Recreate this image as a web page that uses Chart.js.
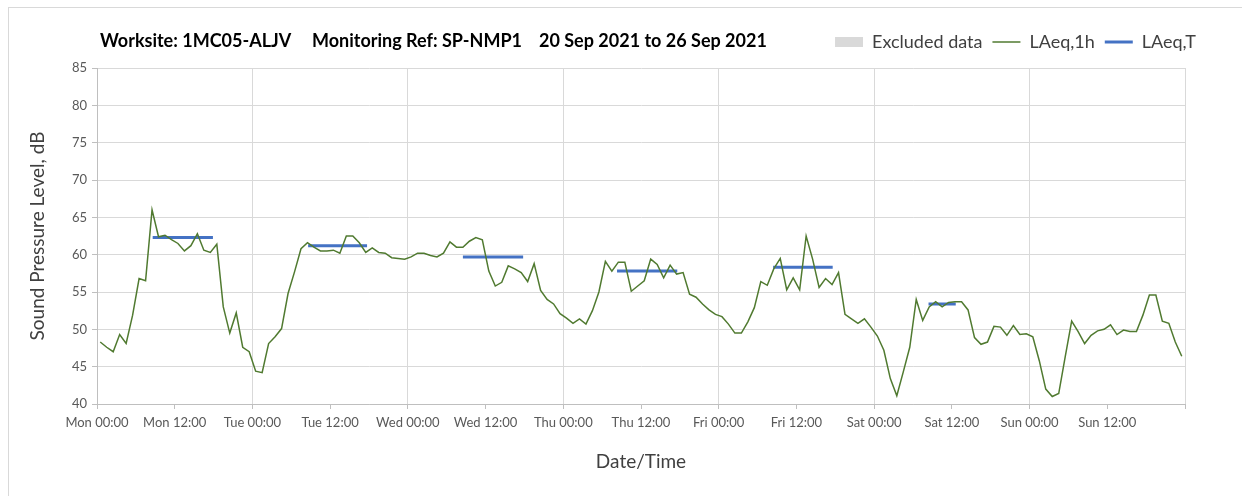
<!DOCTYPE html>
<html>
<head>
<meta charset="utf-8">
<title>SP-NMP1 noise monitoring</title>
<script src="https://cdn.jsdelivr.net/npm/chart.js@4.4.1/dist/chart.umd.min.js"></script>
<style>
  html, body { margin: 0; padding: 0; background: #fff; }
  #wrap { position: relative; width: 1242px; height: 496px; overflow: hidden; }
  #frame { position: absolute; left: 8px; top: 7px; width: 1300px; height: 600px; border: 1px solid #d9d9d9; }
  #chart { position: absolute; left: 0; top: 0; }
</style>
</head>
<body>
<div id="wrap">
  <div id="frame"></div>
  <canvas id="chart" width="1242" height="496"></canvas>
</div>
<script>
// Hourly LAeq,1h (dB) from Mon 00:00 to Sun 23:00, one value per hour
const laeq1h = [
  // Mon
  48.3, 47.6, 47.0, 49.3, 48.1, 51.9, 56.8, 56.5, 66.0, 62.4, 62.6, 62.0,
  61.5, 60.5, 61.2, 62.8, 60.6, 60.3, 61.4, 53.0, 49.5, 52.2, 47.6, 47.0,
  // Tue
  44.4, 44.2, 48.1, 49.0, 50.1, 54.8, 57.7, 60.8, 61.6, 61.0, 60.5, 60.5,
  60.6, 60.2, 62.5, 62.5, 61.6, 60.3, 60.9, 60.3, 60.2, 59.6, 59.5, 59.4,
  // Wed
  59.7, 60.2, 60.2, 59.9, 59.7, 60.2, 61.7, 61.0, 61.0, 61.8, 62.3, 62.0,
  57.8, 55.8, 56.3, 58.5, 58.1, 57.6, 56.4, 58.8, 55.2, 54.0, 53.4, 52.1,
  // Thu
  51.5, 50.8, 51.4, 50.7, 52.5, 55.0, 59.1, 57.8, 59.0, 59.0, 55.1, 55.8,
  56.5, 59.4, 58.7, 56.9, 58.6, 57.4, 57.6, 54.7, 54.3, 53.4, 52.6, 52.0,
  // Fri
  51.7, 50.7, 49.5, 49.5, 51.0, 52.9, 56.4, 55.9, 58.1, 59.5, 55.3, 56.9,
  55.3, 62.5, 59.4, 55.6, 56.8, 56.0, 57.6, 52.0, 51.4, 50.8, 51.4, 50.3,
  // Sat
  49.1, 47.2, 43.4, 41.1, 44.3, 47.6, 54.0, 51.2, 53.0, 53.7, 53.0, 53.6,
  53.7, 53.7, 52.6, 48.9, 48.0, 48.3, 50.4, 50.3, 49.2, 50.5, 49.3, 49.4,
  // Sun
  49.0, 45.8, 42.0, 41.0, 41.4, 46.3, 51.1, 49.7, 48.1, 49.2, 49.8, 50.0,
  50.6, 49.3, 49.9, 49.7, 49.7, 51.9, 54.6, 54.6, 51.1, 50.8, 48.3, 46.4
];

// LAeq,T over the working period of each day (Mon..Sat)
const periodDay  = [0, 1, 2, 3, 4, 5];
const periodFrom = [8.6, 8.6, 8.5, 8.3, 8.4, 8.4];      // hour of day
const periodTo   = [17.9, 17.7, 17.8, 17.6, 17.6, 12.6];
const laeqT      = [62.3, 61.2, 59.7, 57.8, 58.3, 53.4];

const tickLabels = [
  "Mon 00:00", "Mon 12:00", "Tue 00:00", "Tue 12:00", "Wed 00:00", "Wed 12:00",
  "Thu 00:00", "Thu 12:00", "Fri 00:00", "Fri 12:00", "Sat 00:00", "Sat 12:00",
  "Sun 00:00", "Sun 12:00"
];

const titleParts = ["Worksite: 1MC05-ALJV", "Monitoring Ref: SP-NMP1", "20 Sep 2021 to 26 Sep 2021"];

const FONT = "Lato, 'Open Sans', sans-serif";
const C = { green: "#507a30", blue: "#4472c4", grey: "#d9d9d9", axis: "#bfbfbf", text: "#404040", tick: "#595959" };

// x in hours since Mon 00:00, each hourly value centred in its hour
const hourlyPts = laeq1h.map((v, i) => ({ x: i + 0.5, y: v }));
const periodPts = [];
periodDay.forEach((d, k) => {
  periodPts.push({ x: d * 24 + periodFrom[k], y: laeqT[k] });
  periodPts.push({ x: d * 24 + periodTo[k], y: laeqT[k] });
  periodPts.push({ x: d * 24 + periodTo[k] + 0.1, y: null }); // break
});

// header text drawn on the same row as the legend
const headerTitle = {
  id: "headerTitle",
  afterDraw(chart, args, o) {
    const ctx = chart.ctx;
    ctx.save();
    ctx.font = "bold 18px " + FONT;
    ctx.fillStyle = "#000";
    ctx.textBaseline = "alphabetic";
    o.parts.forEach((t, i) => ctx.fillText(t, o.xs[i], o.y));
    ctx.restore();
  }
};

// move legend a little right/up so it sits beside the title
const nudgeLegend = {
  id: "nudgeLegend",
  afterLayout(chart, args, o) {
    const l = chart.legend;
    if (!l) return;
    l.left += o.dx; l.right += o.dx;
    l.top += o.dy; l.bottom += o.dy;
  }
};

new Chart(document.getElementById("chart"), {
  type: "line",
  data: {
    datasets: [
      { label: "Excluded data", data: [], backgroundColor: C.grey, borderColor: C.grey, borderWidth: 0, legendStyle: "rect" },
      { label: "LAeq,1h", data: hourlyPts, borderColor: C.green, backgroundColor: C.green, borderWidth: 1.5, pointRadius: 0, tension: 0, legendStyle: "line" },
      { label: "LAeq,T", data: periodPts, borderColor: C.blue, backgroundColor: C.blue, borderWidth: 3, pointRadius: 0, spanGaps: false, legendStyle: "line" },
    ],
  },
  options: {
    responsive: false,
    animation: false,
    layout: { padding: { top: 30, right: 57, left: 0, bottom: 0 } },
    plugins: {
      tooltip: { enabled: false },
      headerTitle: { parts: titleParts, xs: [100, 312, 539], y: 47 },
      nudgeLegend: { dx: 21, dy: -7 },
      legend: {
        position: "top",
        align: "end",
        labels: {
          usePointStyle: true,
          pointStyleWidth: 28,
          boxHeight: 10,
          padding: 10,
          color: C.text,
          font: { family: FONT, size: 18 },
          generateLabels: (chart) => chart.data.datasets.map((ds, i) => ({
            text: ds.label,
            datasetIndex: i,
            hidden: false,
            pointStyle: ds.legendStyle,
            fillStyle: ds.backgroundColor,
            strokeStyle: ds.borderColor,
            lineWidth: ds.legendStyle === "rect" ? 0 : ds.borderWidth,
            fontColor: C.text,
          })),
        },
      },
    },
    scales: {
      x: {
        type: "linear",
        min: 0,
        max: 168,
        afterFit: (s) => { s.height = 92; },
        ticks: {
          stepSize: 12,
          autoSkip: false,
          maxRotation: 0,
          minRotation: 0,
          padding: 6,
          color: C.tick,
          font: { family: FONT, size: 13 },
          callback: (v) => tickLabels[v / 12] || "",
        },
        grid: {
          color: (c) => (c.tick && c.tick.value % 24 === 0 ? C.grey : "rgba(0,0,0,0)"),
          tickColor: C.axis,
          tickLength: 5,
        },
        border: { color: C.axis },
        title: { display: true, text: "Date/Time", color: C.text, font: { family: FONT, size: 19 }, padding: { top: 4, bottom: 23 } },
      },
      y: {
        min: 40,
        max: 85,
        afterFit: (s) => { s.width = 97; },
        ticks: { stepSize: 5, padding: 5, color: C.tick, font: { family: FONT, size: 13 } },
        grid: { color: C.grey, tickColor: C.axis, tickLength: 5 },
        border: { color: C.axis },
        title: { display: true, text: "Sound Pressure Level, dB", color: C.text, font: { family: FONT, size: 19 }, padding: { top: 26, bottom: 0 } },
      },
    },
  },
  plugins: [headerTitle, nudgeLegend],
});
</script>
</body>
</html>
